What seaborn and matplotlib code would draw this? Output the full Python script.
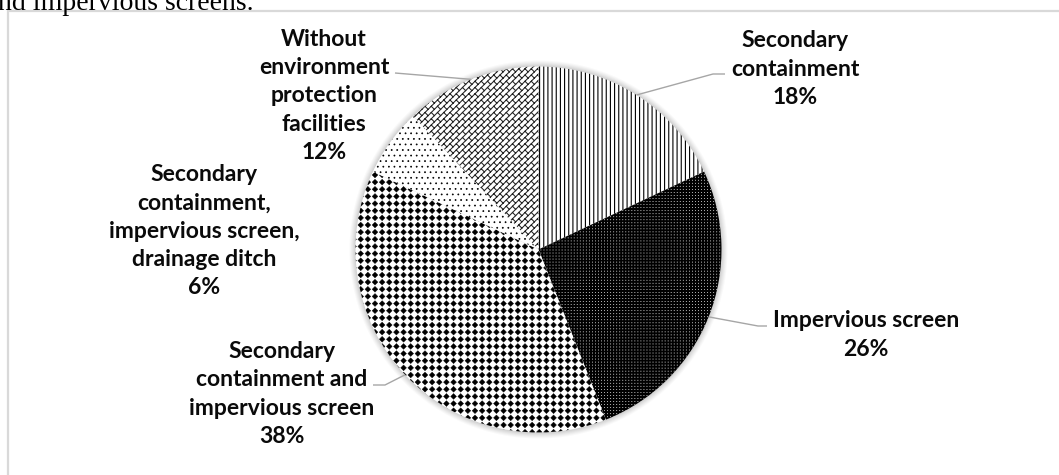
import warnings
import numpy as np
import matplotlib
matplotlib.use("Agg")
import matplotlib.pyplot as plt
import matplotlib.hatch as mhatch
from matplotlib.path import Path
from matplotlib.patches import Rectangle, Circle
import seaborn as sns

warnings.filterwarnings("ignore")

# ---- data -------------------------------------------------------------
categories = [
    "Secondary\ncontainment",
    "Impervious screen",
    "Secondary\ncontainment and\nimpervious screen",
    "Secondary\ncontainment,\nimpervious screen,\ndrainage ditch",
    "Without\nenvironment\nprotection\nfacilities",
]
shares = [18, 26, 38, 6, 12]

# fill styles per slice: (face colour, hatch colour, hatch code, hatch width)
fills = [
    ("white", "black", "||||", 0.8),
    ("black", "#f2f2f2", "s", 0.05),
    ("white", "black", "d", 0.3),
    ("white", "black", "...", 0.5),
    ("white", "#222222", "b", 0.75),
]

# label block centres and leader-line elbows, in pixels from the top-left
label_xy = [(795, 69), (866, 335), (282, 394), (204, 231), (324, 96)]
elbows = [((713, 74), (725, 74)),
          ((758, 326), (767, 326)),
          ((385, 385), (373, 385)),
          None,
          ((395, 73), (395, 73))]


# ---- extra hatch textures ----------------------------------------------
class GridShapes(mhatch.HatchPatternBase):
    """Filled shapes laid out on a square grid inside the hatch tile."""
    char = ""
    rows = 1
    size = 0.3
    outline = [(0, 1), (1, 0), (0, -1), (-1, 0), (0, 1)]

    def __init__(self, hatch, density):
        self.n = self.rows if (self.char and self.char in hatch) else 0
        self.num_vertices = self.n * self.n * len(self.outline)

    def set_vertices_and_codes(self, vertices, codes):
        step = 1.0 / self.n
        c = (np.arange(self.n) + 0.5) * step
        cx, cy = np.meshgrid(c, c)
        centres = np.column_stack([cx.ravel(), cy.ravel()])
        shape = np.asarray(self.outline, float) * self.size * step
        vertices[:] = (centres[:, None, :] + shape[None, :, :]).reshape(-1, 2)
        one = np.full(len(shape), Path.LINETO, dtype=Path.code_type)
        one[0] = Path.MOVETO
        one[-1] = Path.CLOSEPOLY
        codes[:] = np.tile(one, len(centres))


class Diamonds(GridShapes):
    char = "d"
    rows = 14
    size = 0.40


class PinDots(GridShapes):
    char = "s"
    rows = 33
    size = 0.13
    outline = [(-1, -1), (1, -1), (1, 1), (-1, 1), (-1, -1)]


class Bricks(mhatch.HatchPatternBase):
    """Diagonal brick courses with staggered joints."""
    char = "b"
    courses = 16
    per_course = 8

    def __init__(self, hatch, density):
        on = self.char in hatch
        n, p = self.courses, self.per_course
        self.num_lines = (2 * n + 1) if on else 0
        self.num_joints = (2 * n * (2 * p + 1)) if on else 0
        self.num_vertices = 2 * (self.num_lines + self.num_joints)

    def set_vertices_and_codes(self, vertices, codes):
        n, p = self.courses, self.per_course
        k = np.arange(-n, n + 1) / n
        segs = []
        for g in k:
            segs.append(((g - 0.1, -0.1), (g + 1.1, 1.1)))
        for i in range(-n, n):
            g = i / n
            for j in range(2 * p + 1):
                u = (j + 0.5 * (i % 2)) / p
                x, y = (u + g) / 2, (u - g) / 2
                segs.append(((x, y), (x + 0.5 / n, y - 0.5 / n)))
        segs = np.asarray(segs, float).reshape(-1, 2)
        vertices[:] = segs
        codes[0::2] = Path.MOVETO
        codes[1::2] = Path.LINETO


mhatch._hatch_types.extend([Diamonds, PinDots, Bricks])

# ---- figure -------------------------------------------------------------
sns.set_theme(style="white")
plt.rcParams["font.family"] = ["Lato", "DejaVu Sans"]

W, H = 1059, 475
fig = plt.figure(figsize=(W / 100, H / 100), dpi=100)
ax = fig.add_axes([0, 0, 1, 1])

cx, cy, R = 538.5, H - 249.5, 183.0

# soft halo around the pie
for d, a in zip([6, 5, 4, 3, 2, 1], [0.04, 0.05, 0.06, 0.07, 0.08, 0.09]):
    ax.add_patch(Circle((cx, cy), R + d, color="#7f7f7f", alpha=a, lw=0, zorder=0))

wedges, _ = ax.pie(shares, startangle=90, counterclock=False,
                   center=(cx, cy), radius=R,
                   wedgeprops=dict(linewidth=0))

for w, (face, hcol, hatch, hlw) in zip(wedges, fills):
    w.set_facecolor(face)
    w.set_edgecolor(hcol)
    w.set_linewidth(0)
    w.set_hatch(hatch)
    if hasattr(w, "set_hatch_linewidth"):
        w.set_hatch_linewidth(hlw)
    w.set_zorder(2)

ax.set_xlim(0, W)
ax.set_ylim(0, H)
ax.set_aspect("equal")
ax.axis("off")

# chart frame
ax.add_patch(Rectangle((8, -20), W + 40, (H - 11) + 20, fill=False,
                       edgecolor="#d9d9d9", lw=1.6, zorder=1))

# labels and leader lines
cum = np.cumsum([0] + shares)
for i, (name, val) in enumerate(zip(categories, shares)):
    lx, ly = label_xy[i]
    ax.text(lx, H - ly, f"{name}\n{val}%", ha="center", va="center",
            fontsize=16.5, fontweight="bold", color="#0a0a0a",
            linespacing=1.42, zorder=5)
    if elbows[i] is None:
        continue
    mid = np.deg2rad(90 - 3.6 * (cum[i] + val / 2))
    sx, sy = cx + R * np.cos(mid), cy + R * np.sin(mid)
    (ex, ey), (tx, ty) = elbows[i]
    ax.plot([sx, ex, tx], [sy, H - ey, H - ty], color="#a6a6a6", lw=1.0,
            solid_capstyle="butt", zorder=4)

# caption text running in from above the chart
ax.text(-2, H - 9.5, "nd impervious screens.", ha="left", va="baseline",
        fontsize=20, family=["Liberation Serif", "DejaVu Serif"], color="black")

fig.savefig("out.png", dpi=100)
